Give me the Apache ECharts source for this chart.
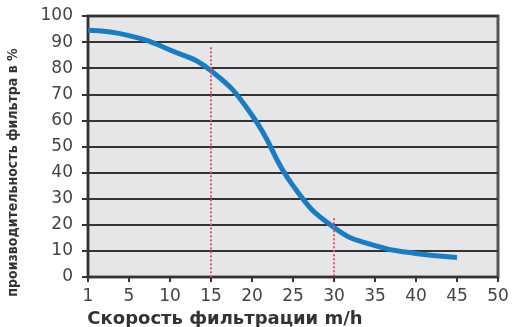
<!DOCTYPE html>
<html>
<head>
<meta charset="utf-8">
<script src="https://cdn.jsdelivr.net/npm/echarts@6/dist/echarts.min.js"></script>
<style>html,body{margin:0;padding:0;background:#fff;}#c{width:517px;height:327px;}</style>
</head>
<body>
<div id="c"></div>
<script>
const xLabels = ['1','5','10','15','20','25','30','35','40','45','50'];
const efficiency = [94.5, 92.5, 87, 79, 62, 35, 19, 12, 9, 7.5, null];
const yTicks = { min: 0, max: 100, interval: 10 };
const markerSpeeds = ['15', '30'];
const markerTops = [88, 22.5];
const xName = 'Скорость фильтрации m/h';
const yName = 'производительность фильтра в %';

const chart = echarts.init(document.getElementById('c'), null, {renderer: 'canvas'});
chart.setOption({
  backgroundColor: '#ffffff',
  animation: false,
  grid: { left: 88, right: 19, top: 16, bottom: 50, outerBoundsMode: 'none', containLabel: false, show: true, backgroundColor: '#e6e6e8', borderColor: '#555', borderWidth: 3 },
  xAxis: {
    type: 'category', data: xLabels, boundaryGap: false,
    axisLine: { lineStyle: { color: '#333', width: 2 } },
    axisTick: { show: true, length: 5, alignWithLabel: true, lineStyle: { color: '#333', width: 2 } },
    axisLabel: { color: '#444', fontFamily: 'DejaVu Sans', fontSize: 17, margin: 11 },
    splitLine: { show: false },
    name: xName, nameLocation: 'middle', nameGap: 30,
    nameTextStyle: { color: '#333', fontFamily: 'DejaVu Sans', fontWeight: 'bold', fontSize: 18, padding: [0, 136, 0, 0] }
  },
  yAxis: {
    type: 'value', min: yTicks.min, max: yTicks.max, interval: yTicks.interval,
    axisLine: { show: true, lineStyle: { color: '#333', width: 2 } },
    axisTick: { show: true, length: 6, lineStyle: { color: '#333', width: 2 } },
    axisLabel: { color: '#444', fontFamily: 'DejaVu Sans', fontSize: 17, margin: 15 },
    splitLine: { show: true, lineStyle: { color: '#333', width: 2 } },
    name: yName, nameLocation: 'middle', nameGap: 68, nameRotate: 90,
    nameTextStyle: { color: '#333', fontFamily: 'DejaVu Sans Condensed', fontWeight: 'bold', fontSize: 14, padding: [0, 52, 0, 0] }
  },
  series: [{
    type: 'line', data: efficiency, smooth: 0.5, showSymbol: false,
    lineStyle: { color: '#1b7dc1', width: 5 },
    markLine: {
      silent: true, symbol: ['none', 'none'], label: { show: false },
      lineStyle: { color: '#e4506e', type: 'dotted', width: 2 },
      data: markerSpeeds.map((s, i) => [{ coord: [s, markerTops[i]] }, { coord: [s, 0] }])
    },
    z: 3
  }]
});
</script>
</body>
</html>
